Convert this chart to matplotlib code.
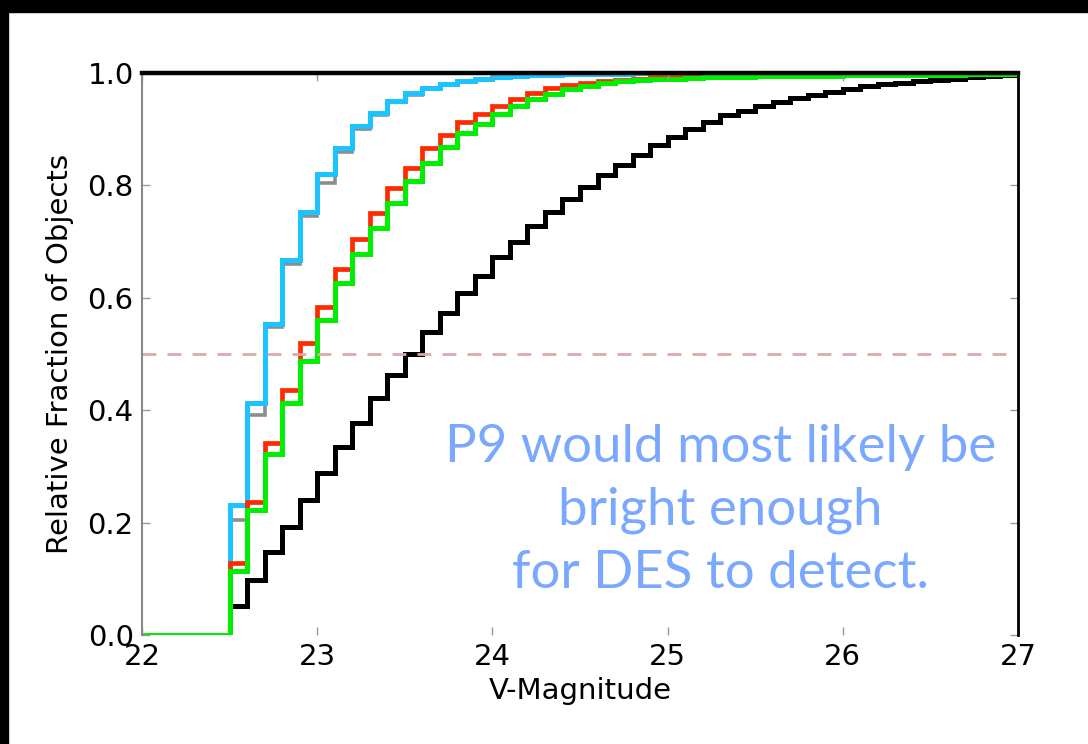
import numpy as np
import matplotlib.pyplot as plt
from matplotlib.patches import Rectangle

# cumulative fractions per 0.1 mag bin, starting at V = 22.5
v_start, v_stop, v_bin = 22.5, 27.0, 0.1
frac_black = [0.052, 0.098, 0.148, 0.193, 0.240, 0.288, 0.335, 0.378, 0.421, 0.463,
              0.500, 0.539, 0.573, 0.608, 0.639, 0.672, 0.700, 0.727, 0.752, 0.776,
              0.798, 0.818, 0.836, 0.854, 0.872, 0.886, 0.900, 0.913, 0.925, 0.933,
              0.941, 0.949, 0.956, 0.961, 0.966, 0.971, 0.976, 0.980, 0.983, 0.986,
              0.988, 0.990, 0.992, 0.994, 0.996]
frac_gray = [0.205, 0.392, 0.548, 0.661, 0.745, 0.805, 0.859, 0.900, 0.925, 0.948,
             0.961, 0.971, 0.978, 0.984, 0.988, 0.991, 0.993, 0.995, 0.996, 0.997,
             0.998, 0.998, 0.999, 0.999, 0.999, 1.0, 1.0, 1.0, 1.0, 1.0,
             1.0, 1.0, 1.0, 1.0, 1.0, 1.0, 1.0, 1.0, 1.0, 1.0,
             1.0, 1.0, 1.0, 1.0, 1.0]
frac_cyan = [0.231, 0.413, 0.553, 0.668, 0.752, 0.821, 0.867, 0.905, 0.928, 0.951,
             0.965, 0.973, 0.980, 0.986, 0.990, 0.993, 0.995, 0.996, 0.997, 0.998,
             0.998, 0.999, 0.999, 1.0, 1.0, 1.0, 1.0, 1.0, 1.0, 1.0,
             1.0, 1.0, 1.0, 1.0, 1.0, 1.0, 1.0, 1.0, 1.0, 1.0,
             1.0, 1.0, 1.0, 1.0, 1.0]
frac_red = [0.128, 0.237, 0.341, 0.436, 0.519, 0.584, 0.652, 0.704, 0.751, 0.795,
            0.831, 0.866, 0.890, 0.913, 0.927, 0.942, 0.954, 0.965, 0.973, 0.979,
            0.983, 0.986, 0.988, 0.990, 0.992, 0.993, 0.994, 0.995, 0.996, 0.996,
            0.997, 0.997, 0.998, 0.998, 0.998, 0.999, 0.999, 0.999, 0.999, 0.999,
            1.0, 1.0, 1.0, 1.0, 1.0]
frac_green = [0.114, 0.222, 0.322, 0.412, 0.488, 0.560, 0.626, 0.678, 0.724, 0.769,
              0.808, 0.840, 0.869, 0.893, 0.909, 0.927, 0.941, 0.953, 0.963, 0.971,
              0.977, 0.982, 0.985, 0.987, 0.989, 0.990, 0.991, 0.992, 0.993, 0.993,
              0.994, 0.994, 0.995, 0.995, 0.995, 0.996, 0.996, 0.996, 0.997, 0.997,
              0.997, 0.997, 0.998, 0.998, 0.998]

x_ticks = [22, 23, 24, 25, 26, 27]
y_ticks = [0.0, 0.2, 0.4, 0.6, 0.8, 1.0]
note = 'P9 would most likely be\nbright enough\nfor DES to detect.'

n_bins = int(round((v_stop - v_start) / v_bin))
edges = np.concatenate([[22.0], v_start + v_bin * np.arange(n_bins + 1)])

fig = plt.figure(figsize=(10.88, 7.44), dpi=100)
ax = fig.add_axes([142/1088, 1 - 635/744, (1018 - 142)/1088, (635 - 73)/744])

# black frame remnants at top and left of the slide
fig.patches.append(Rectangle((0, 1 - 12/744), 1, 12/744, transform=fig.transFigure,
                             color='black', zorder=10))
fig.patches.append(Rectangle((0, 0), 8/1088, 1, transform=fig.transFigure,
                             color='black', zorder=10))

curves = [(frac_black, 'black', 3.6), (frac_gray, '#8c8c8c', 2.6), (frac_cyan, '#1cc4ff', 3.6),
          (frac_red, '#ff2a00', 3.4), (frac_green, '#00ee00', 3.6)]
for vals, col, lw in curves:
    ax.stairs([0.0] + vals, edges, baseline=None, color=col, lw=lw)

ax.axhline(0.5, color='#dcaaaa', lw=2, ls=(0, (5, 4)))

ax.text(25.30, 0.222, note, color='#7aa8ff', fontsize=38, family=['Lato', 'DejaVu Sans'],
        ha='center', va='center', linespacing=1.42)

ax.set_xlim(22, 27)
ax.set_ylim(0, 1)
ax.set_xticks(x_ticks)
ax.set_yticks(y_ticks)
ax.set_xticklabels([str(t) for t in x_ticks])
ax.set_yticklabels([f'{t:.1f}' for t in y_ticks])
ax.tick_params(direction='in', length=6, width=1, color='#999999', labelsize=21,
               top=True, right=True, pad=6)
ax.set_xlabel('V-Magnitude', fontsize=21, labelpad=4)
ax.set_ylabel('Relative Fraction of Objects', fontsize=21, labelpad=10)

ax.spines['bottom'].set_visible(False)
ax.spines['left'].set_color('#888888')
ax.spines['left'].set_linewidth(1.5)
ax.spines['top'].set_color('black')
ax.spines['top'].set_linewidth(3.2)
ax.spines['right'].set_color('black')
ax.spines['right'].set_linewidth(2)

fig.savefig('out.png', dpi=100)
